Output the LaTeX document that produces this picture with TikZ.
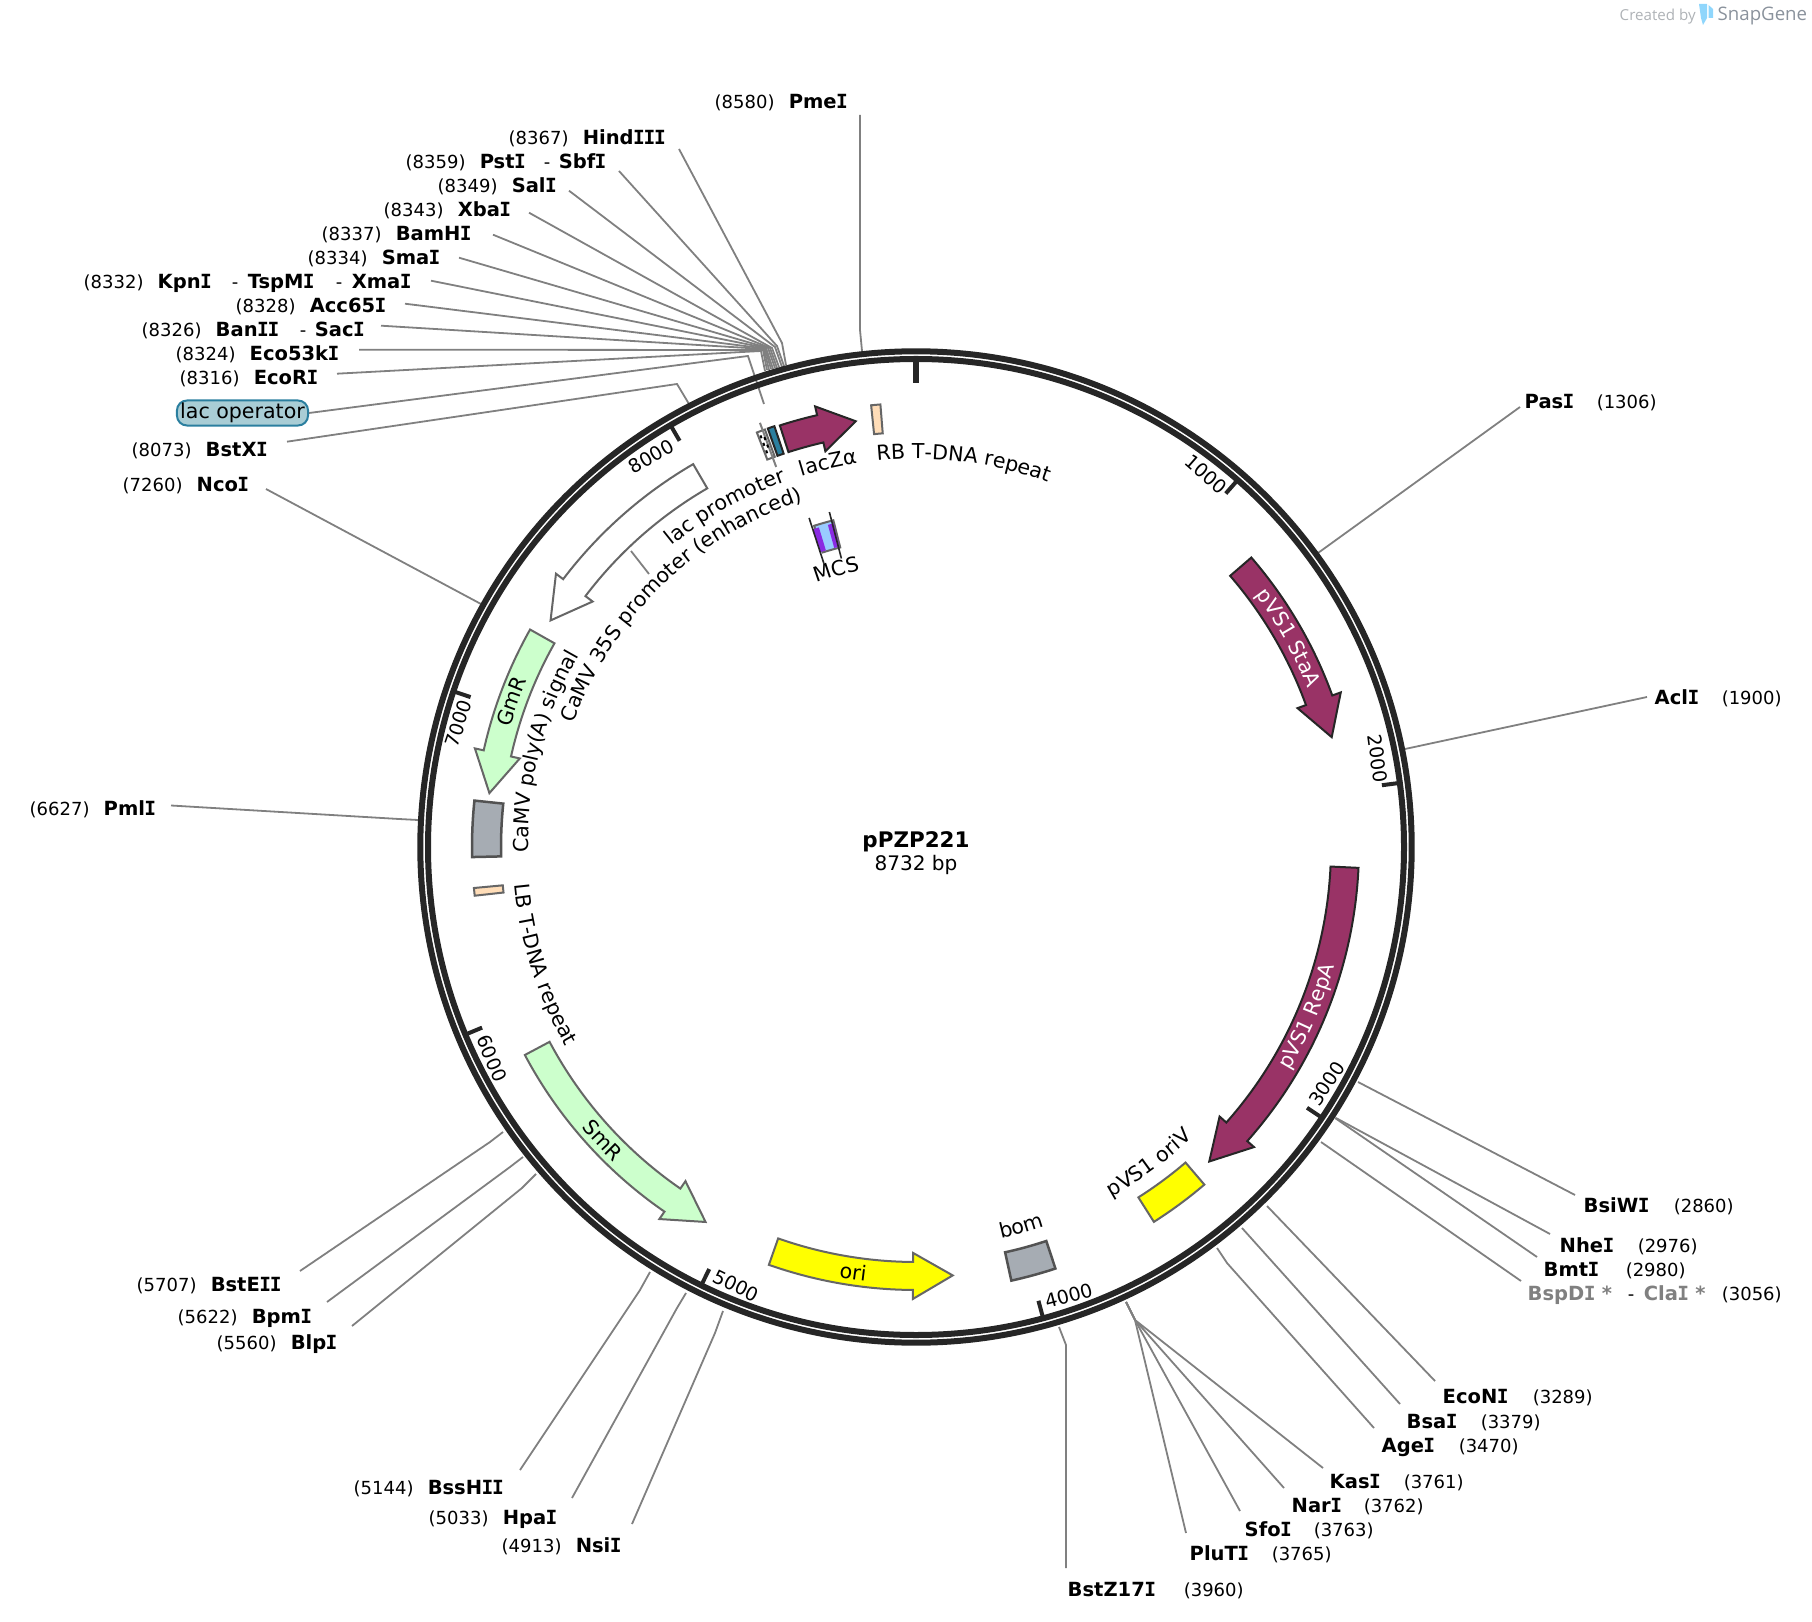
\documentclass[tikz,border=0pt]{standalone}
\usepackage{fontspec}
\setmainfont{DejaVu Sans}
\newfontfamily\logofont{Open Sans}
\newfontfamily\slabfont{DejaVu Sans Mono}
\usetikzlibrary{decorations.text}
\definecolor{darkring}{HTML}{262626}
\definecolor{sitegray}{HTML}{808080}
\definecolor{boxgray}{HTML}{666666}
\definecolor{genepurple}{HTML}{993366}
\definecolor{markgreen}{HTML}{CCFFCC}
\definecolor{oriyellow}{HTML}{FFFF00}
\definecolor{termgray}{HTML}{A6ACB3}
\definecolor{repeatpeach}{HTML}{FFDDB8}
\definecolor{lacteal}{HTML}{2B7F9F}
\definecolor{lacpale}{HTML}{A9CDD5}
\definecolor{mcsblue}{HTML}{99CCFF}
\definecolor{mcspurple}{HTML}{8A2BE2}
\definecolor{logogray}{HTML}{8A929C}
\definecolor{logopale}{HTML}{AEB2B6}
\definecolor{logoblue}{HTML}{8FD6FC}
\newcommand{\sitefont}{\fontsize{5.12}{6}\selectfont}
\newcommand{\featfont}{\fontsize{5.85}{7}\selectfont}
\newcommand{\capI}{{\slabfont\kern-0.03em I\kern-0.03em}}
\newcommand{\enz}[1]{{\fontsize{5.55}{7}\selectfont\bfseries #1}}
\newcommand{\cutL}[2]{\makebox[0.74cm][l]{(#1)}\enz{#2}}
\newcommand{\cutR}[3]{\makebox[#1][l]{\enz{#2}}(#3)}
% arrow on the track: style, tail, head base, tip (degrees from the top)
\newcommand{\featarrow}[4]{\draw[#1] ({#2-90}:443) arc[start angle={#2-90}, end angle={#3-90}, radius=443] -- ({#3-90}:452) -- ({#4-90}:430) -- ({#3-90}:406) -- ({#3-90}:415) arc[start angle={#3-90}, end angle={#2-90}, radius=415] -- cycle;}
\newcommand{\featbox}[3]{\draw[#1] ({#2-90}:444) arc[start angle={#2-90}, end angle={#3-90}, radius=444] -- ({#3-90}:415) arc[start angle={#3-90}, end angle={#2-90}, radius=415] -- cycle;}
% text on an arc: format, centre, radius, direction, text
\newcommand{\featlabel}[5]{\path[decorate, decoration={text along path, text={|\featfont#1|#5}, text align=center}] ({#2-(#4)*50-90}:#3) arc[start angle={#2-(#4)*50-90}, end angle={#2+(#4)*50-90}, radius=#3];}
\tikzset{
  siteline/.style={draw=sitegray, line width=0.018cm},
  sitelabel/.style={inner sep=0pt, anchor=base west, font=\sitefont},
  ticklabel/.style={inner sep=0pt, font=\fontsize{5.4}{6}\selectfont},
  ringline/.style={draw=darkring, line width=0.06cm},
  tickmark/.style={draw=darkring, line width=0.04cm},
  darkgene/.style={draw=darkring, fill=genepurple, line width=0.02cm, line join=miter},
  whitegene/.style={draw=boxgray, fill=white, line width=0.02cm},
  greengene/.style={draw=boxgray, fill=markgreen, line width=0.02cm},
  origene/.style={draw=boxgray, fill=oriyellow, line width=0.02cm},
  termbox/.style={draw=boxgray!80!black, fill=termgray, line width=0.025cm},
  repeatbox/.style={draw=boxgray, fill=repeatpeach, line width=0.02cm}
}
\begin{document}
\begin{tikzpicture}[x=0.01cm, y=-0.01cm]
  \useasboundingbox (0,0) rectangle (1812,1622);

  % Top and left sites
  \node[sitelabel] (PmeI) at (714,109) {\cutL{8580}{Pme\capI}};
  \node[sitelabel] (HindIII) at (508,145) {\cutL{8367}{Hind\capI\capI\capI}};
  \node[sitelabel] (PstI) at (405,169) {\cutL{8359}{\makebox[0.64cm][l]{Pst\capI}}\makebox[0.15cm][l]{-}\enz{Sbf\capI}};
  \node[sitelabel] (SalI) at (437,192.7) {\cutL{8349}{Sal\capI}};
  \node[sitelabel] (XbaI) at (383,216.7) {\cutL{8343}{Xba\capI}};
  \node[sitelabel] (BamHI) at (321,240.7) {\cutL{8337}{BamH\capI}};
  \node[sitelabel] (SmaI) at (307,264.7) {\cutL{8334}{Sma\capI}};
  \node[sitelabel] (KpnI) at (83,288.7) {\cutL{8332}{\makebox[0.74cm][l]{Kpn\capI}}\makebox[0.16cm][l]{-}\enz{\makebox[0.88cm][l]{TspM\capI}}\makebox[0.16cm][l]{-}\enz{Xma\capI}};
  \node[sitelabel] (Acc65I) at (235,312.7) {\cutL{8328}{Acc65\capI}};
  \node[sitelabel] (BanII) at (141,336.7) {\cutL{8326}{\makebox[0.84cm][l]{Ban\capI\capI}}\makebox[0.15cm][l]{-}\enz{Sac\capI}};
  \node[sitelabel] (Eco53kI) at (175,360.7) {\cutL{8324}{Eco53k\capI}};
  \node[sitelabel] (EcoRI) at (179,384.7) {\cutL{8316}{EcoR\capI}};
  \node[draw=lacteal, fill=lacpale, line width=0.02cm, rounded corners=0.1cm, minimum width=1.31cm, minimum height=0.25cm, inner sep=0pt, font=\featfont] (lacop) at (242.5,413) {lac operator};
  \node[sitelabel] (BstXI) at (131,456.7) {\cutL{8073}{BstX\capI}};
  \node[sitelabel] (NcoI) at (122,492) {\cutL{7260}{Nco\capI}};
  \node[sitelabel] (PmlI) at (29,815) {\cutL{6627}{Pml\capI}};

  \draw[siteline] ([shift={(146,6)}]PmeI.base west) -- (860,330) -- (862,351) coordinate (cutPmeI);
  \draw[siteline] ([shift={(171,4)}]HindIII.base west) -- (782,343) -- (786,365) coordinate (cutHindIII);
  \draw[siteline] ([shift={(214,2)}]PstI.base west) -- (777,346) -- (784,366) coordinate (cutPstI);
  \draw[siteline] ([shift={(132,-2)}]SalI.base west) -- (775,347) -- (782,367) coordinate (cutSalI);
  \draw[siteline] ([shift={(146,-4)}]XbaI.base west) -- (772,348) -- (779,367) coordinate (cutXbaI);
  \draw[siteline] ([shift={(172,-6)}]BamHI.base west) -- (770,348) -- (777,368) coordinate (cutBamHI);
  \draw[siteline] ([shift={(152,-7)}]SmaI.base west) -- (768,348) -- (775,368) coordinate (cutSmaI);
  \draw[siteline] ([shift={(348,-8)}]KpnI.base west) -- (766,348) -- (773,369) coordinate (cutKpnI);
  \draw[siteline] ([shift={(170,-9)}]Acc65I.base west) -- (765,348.5) -- (771,369) coordinate (cutAcc65I);
  \draw[siteline] ([shift={(240,-11)}]BanII.base west) -- (764,349) -- (769,370) coordinate (cutBanII);
  \draw[siteline] ([shift={(184,-11)}]Eco53kI.base west) -- (763,350) -- (767,370) coordinate (cutEco53kI);
  \draw[siteline] ([shift={(158,-11)}]EcoRI.base west) -- (761,351) -- (765,371) coordinate (cutEcoRI);
  \draw[siteline] (lacop.east) -- (748,356) -- (764,404) coordinate (cutlacop);
  \draw[siteline] ([shift={(156,-15)}]BstXI.base west) -- (677,384) -- (689,404) coordinate (cutBstXI);
  \draw[siteline] ([shift={(144,-3)}]NcoI.base west) -- (481,604) coordinate (cutNcoI);
  \draw[siteline] ([shift={(142,-9.5)}]PmlI.base west) -- (399,819) -- (418,820) coordinate (cutPmlI);

  % Right sites
  \node[sitelabel] (PasI) at (1524,409) {\cutR{0.72cm}{Pas\capI}{1306}};
  \node[sitelabel] (AclI) at (1654,705) {\cutR{0.67cm}{Acl\capI}{1900}};
  \node[sitelabel] (BsiWI) at (1583,1212) {\cutR{0.90cm}{BsiW\capI}{2860}};
  \node[sitelabel] (NheI) at (1559,1252) {\cutR{0.78cm}{Nhe\capI}{2976}};
  \node[sitelabel] (BmtI) at (1543,1276) {\cutR{0.82cm}{Bmt\capI}{2980}};
  \node[sitelabel] (BspDI) at (1527,1300) {\makebox[1cm][l]{\enz{\textcolor{sitegray}{BspD\capI{} *}}}\makebox[0.16cm][l]{-}\makebox[0.78cm][l]{\enz{\textcolor{sitegray}{Cla\capI{} *}}}(3056)};
  \node[sitelabel] (EcoNI) at (1442,1403) {\cutR{0.90cm}{EcoN\capI}{3289}};
  \node[sitelabel] (BsaI) at (1406,1428) {\cutR{0.74cm}{Bsa\capI}{3379}};
  \node[sitelabel] (AgeI) at (1381,1452) {\cutR{0.77cm}{Age\capI}{3470}};
  \node[sitelabel] (KasI) at (1329,1488) {\cutR{0.74cm}{Kas\capI}{3761}};
  \node[sitelabel] (NarI) at (1291,1512) {\cutR{0.72cm}{Nar\capI}{3762}};
  \node[sitelabel] (SfoI) at (1244,1536) {\cutR{0.69cm}{Sfo\capI}{3763}};
  \node[sitelabel] (PluTI) at (1189,1560) {\cutR{0.82cm}{PluT\capI}{3765}};
  \node[sitelabel] (BstZ17I) at (1067,1596) {\cutR{1.16cm}{BstZ17\capI}{3960}};

  \draw[siteline] ([shift={(-4,-2)}]PasI.base west) -- (1318,553) coordinate (cutPasI);
  \draw[siteline] ([shift={(-7,-8)}]AclI.base west) -- (1405,749) coordinate (cutAclI);
  \draw[siteline] ([shift={(-8,-17)}]BsiWI.base west) -- (1358,1082) coordinate (cutBsiWI);
  \draw[siteline] ([shift={(-9,-18)}]NheI.base west) -- (1336,1118) coordinate (cutNheI);
  \draw[siteline] ([shift={(-6,-19)}]BmtI.base west) -- (1335,1118) coordinate (cutBmtI);
  \draw[siteline] ([shift={(-6,-19)}]BspDI.base west) -- (1321,1142) coordinate (cutBspDI);
  \draw[siteline] ([shift={(-7,-22)}]EcoNI.base west) -- (1267,1206) coordinate (cutEcoNI);
  \draw[siteline] ([shift={(-6,-24)}]BsaI.base west) -- (1242,1228) coordinate (cutBsaI);
  \draw[siteline] ([shift={(-7,-24)}]AgeI.base west) -- (1227,1263) -- (1217,1248) coordinate (cutAgeI);
  \draw[siteline] ([shift={(-6,-20)}]KasI.base west) -- (1135,1320) -- (1126,1302) coordinate (cutKasI);
  \draw[siteline] ([shift={(-7,-24)}]NarI.base west) -- (1135,1320) -- (1126,1302) coordinate (cutNarI);
  \draw[siteline] ([shift={(-4,-25)}]SfoI.base west) -- (1135,1320) -- (1126,1302) coordinate (cutSfoI);
  \draw[siteline] ([shift={(-3,-27)}]PluTI.base west) -- (1135,1320) -- (1126,1302) coordinate (cutPluTI);
  \draw[siteline] ([shift={(-1,-28)}]BstZ17I.base west) -- (1066,1345) -- (1059,1327) coordinate (cutBstZ17I);

  % Bottom left sites
  \node[sitelabel] (BstEII) at (136,1291) {\cutL{5707}{BstE\capI\capI}};
  \node[sitelabel] (BpmI) at (177,1323) {\cutL{5622}{Bpm\capI}};
  \node[sitelabel] (BlpI) at (216,1349) {\cutL{5560}{Blp\capI}};
  \node[sitelabel] (BssHII) at (353,1494) {\cutL{5144}{BssH\capI\capI}};
  \node[sitelabel] (HpaI) at (428,1524) {\cutL{5033}{Hpa\capI}};
  \node[sitelabel] (NsiI) at (501,1552) {\cutL{4913}{Nsi\capI}};

  \draw[siteline] ([shift={(164,-20)}]BstEII.base west) -- (490,1142) -- (503,1132) coordinate (cutBstEII);
  \draw[siteline] ([shift={(150,-21)}]BpmI.base west) -- (510,1167) -- (523,1157) coordinate (cutBpmI);
  \draw[siteline] ([shift={(136,-23)}]BlpI.base west) -- (522,1188) -- (536,1174) coordinate (cutBlpI);
  \draw[siteline] ([shift={(167,-24)}]BssHII.base west) -- (640,1290) -- (650,1272) coordinate (cutBssHII);
  \draw[siteline] ([shift={(144,-26)}]HpaI.base west) -- (677,1308) -- (686,1293) coordinate (cutHpaI);
  \draw[siteline] ([shift={(131,-28)}]NsiI.base west) -- (715,1333) -- (723,1311) coordinate (cutNsiI);
  \draw[siteline] (631,551) -- (649,574);

  \begin{scope}[shift={(916,847)}]
    % Ring and ticks
    \draw[ringline] (0,0) circle[radius=495.7];
    \draw[ringline] (0,0) circle[radius=488];
    \draw[tickmark, line width=0.06cm] (-90:488) -- (-90:464);
    \draw[tickmark] (-48.77:488) -- (-48.77:470);
    \draw[tickmark] (-7.55:488) -- (-7.55:470);
    \draw[tickmark] (33.7:488) -- (33.7:470);
    \draw[tickmark] (74.9:488) -- (74.9:470);
    \draw[tickmark] (116.1:488) -- (116.1:470);
    \draw[tickmark] (157.4:488) -- (157.4:470);
    \draw[tickmark] (198.6:488) -- (198.6:470);
    \draw[tickmark] (239.8:488) -- (239.8:470);
    \node[ticklabel, rotate=-41.2] (tick1000) at (-52.1:472) {1000};
    \node[ticklabel, rotate=-82.4] (tick2000) at (-10.8:470) {2000};
    \node[ticklabel, rotate=56.3] (tick3000) at (29.9:474) {3000};
    \node[ticklabel, rotate=15.1] (tick4000) at (71.2:474) {4000};
    \node[ticklabel, rotate=-26.1] (tick5000) at (112.3:474) {5000};
    \node[ticklabel, rotate=-67.4] (tick6000) at (153.5:474) {6000};
    \node[ticklabel, rotate=71.4] (tick7000) at (195.1:474) {7000};
    \node[ticklabel, rotate=30.2] (tick8000) at (235.9:472) {8000};

    % Arrows
    \featarrow{darkgene}{-17.9}{-12.9}{-8.05}
    \featarrow{darkgene}{49.2}{70}{75.2}
    \featarrow{darkgene}{92.7}{131.6}{137}
    \featarrow{origene}{199.4}{180.4}{175.1}
    \featarrow{greengene}{242}{214.6}{209.3}
    \featarrow{greengene}{-60.6}{-77.4}{-82.8}
    \featarrow{whitegene}{-30.2}{-52.8}{-58.2}

    % Boxes
    \featbox{repeatbox}{-5.8}{-4.6}
    \featbox{repeatbox}{-96.3}{-95.3}
    \featbox{termbox}{-91.3}{-84}
    \featbox{termbox}{167.6}{161.7}
    \featbox{origene}{147.6}{139.5}
    \featbox{draw=darkring, fill=lacteal, line width=0.02cm}{-19.5}{-18.6}
    \featbox{whitegene}{-21}{-19.9}
    \draw[siteline, line width=0.02cm] ({-20.2-90}:452) -- ({-20.2-90}:405);
    \draw[line width=0.02cm, dash pattern=on 0.03cm off 0.05cm] ({-20.7-90}:440) -- ({-20.7-90}:418);
    \draw[line width=0.02cm, dash pattern=on 0.03cm off 0.05cm] ({-20.3-90}:437) -- ({-20.3-90}:421);

    % MCS
    \draw[draw=boxgray, fill=mcsblue, line width=0.02cm] ({-17.6-90}:337) arc[start angle={-17.6-90}, end angle={-14.2-90}, radius=337] -- ({-14.2-90}:309) arc[start angle={-14.2-90}, end angle={-17.6-90}, radius=309] -- cycle;
    \fill[mcspurple] ({-18-90}:334) -- ({-16.9-90}:334) -- ({-16.9-90}:310) -- ({-18-90}:310) -- cycle;
    \fill[mcspurple] ({-15.3-90}:334) -- ({-14.3-90}:334) -- ({-14.3-90}:310) -- ({-15.3-90}:310) -- cycle;
    \draw[draw=darkring, line width=0.016cm] ({-18-90}:346) -- ({-18-90}:298);
    \draw[draw=darkring, line width=0.016cm] ({-14.5-90}:346) -- ({-14.5-90}:298);

    % Labels on the track
    \featlabel{}{-12.9}{388}{1}{lacZα}
    \featlabel{}{7.1}{388}{1}{RB T-DNA repeat}
    \featlabel{}{-29.3}{388}{1}{lac promoter}
    \featlabel{}{-44.1}{364}{1}{CaMV 35S promoter (enhanced)}
    \featlabel{}{-75.6}{388}{1}{CaMV poly(A) signal}
    \featlabel{}{-16}{282}{1}{MCS}
    \featlabel{}{252.5}{403}{-1}{LB T-DNA repeat}
    \featlabel{}{143.6}{401}{-1}{pVS1 oriV}
    \featlabel{}{164.5}{401}{-1}{bom}
    \featlabel{\color{white}}{60.7}{423}{1}{pVS1 StaA}
    \featlabel{\color{white}}{113.4}{435}{-1}{pVS1 RepA}
    \featlabel{}{-70.2}{423}{1}{GmR}
    \featlabel{}{226.9}{436.5}{-1}{SmR}
    \featlabel{}{188.4}{437}{-1}{ori}
  \end{scope}

  % Name in the middle
  \node[inner sep=0pt, anchor=base, font=\fontsize{6.1}{7}\selectfont\bfseries] (plasmid) at (916,847) {pPZP221};
  \node[inner sep=0pt, anchor=base, font=\fontsize{5.7}{7}\selectfont] (plasmidsize) at (916,870) {8732 bp};

  % Credit
  \node[inner sep=0pt, anchor=base west, text=logopale, font=\logofont\fontsize{4.3}{5}\selectfont] (createdby) at (1619,21) {Created by};
  \node[inner sep=0pt, anchor=base west, text=logogray, font=\logofont\fontsize{5.3}{6}\selectfont] (snapgene) at (1717,21) {SnapGene};
  \fill[logoblue] (1699,4) -- (1707,4) -- (1707,18) -- (1703,25) -- (1701,18) -- cycle;
  \fill[logoblue] (1708.5,5) -- (1713,9) -- (1713,18) -- (1708.5,18) -- cycle;
\end{tikzpicture}
\end{document}
